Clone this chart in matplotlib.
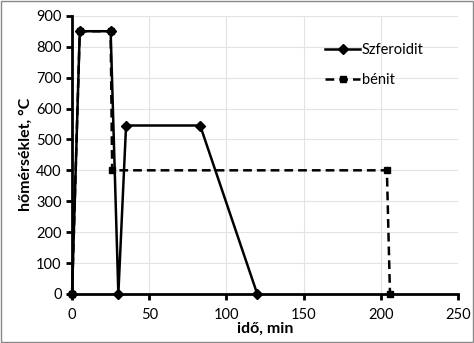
import matplotlib.pyplot as plt

plt.rcParams['font.family'] = ['Lato', 'DejaVu Sans']

# Szferoidit
szf_t = [0, 5, 25, 30, 35, 83, 120]
szf_T = [0, 850, 850, 0, 545, 545, 0]
# bénit
ben_t = [0, 5, 25, 26, 204, 206]
ben_T = [0, 850, 850, 400, 400, 0]

fig = plt.figure(figsize=(4.74, 3.43), dpi=100)
ax = fig.add_axes([0.152, 0.143, 0.814, 0.811])

ax.plot(ben_t, ben_T, color='black', lw=1.8, ls=(0, (3.5, 2)), marker='s', ms=4.5,
        label='bénit', clip_on=False, zorder=3)
ax.plot(szf_t, szf_T, color='black', lw=1.8, marker='D', ms=5,
        label='Szferoidit', clip_on=False, zorder=4)

ax.set_xlim(0, 250)
ax.set_ylim(0, 900)
ax.set_xticks(range(0, 251, 50))
ax.set_yticks(range(0, 901, 100))
ax.grid(True, color='#e3e3e3', lw=0.8)
ax.set_axisbelow(True)

for s in ['top', 'right']:
    ax.spines[s].set_visible(False)
for s in ['left', 'bottom']:
    ax.spines[s].set_linewidth(2)
ax.tick_params(direction='out', length=4, width=2, labelsize=10.5, colors='black')
ax.tick_params(axis='x', pad=6)

ax.set_xlabel('idő, min', fontsize=11.5, fontweight='bold', labelpad=0)
ax.set_ylabel('hőmérséklet, °C', fontsize=11.5, fontweight='bold', labelpad=2)

h, l = ax.get_legend_handles_labels()
ax.legend(h[::-1], l[::-1], loc='upper right', bbox_to_anchor=(0.945, 0.95),
          frameon=False, fontsize=10.5, handlelength=2.4, handletextpad=0.1,
          labelspacing=1.1)

fig.patches.append(plt.Rectangle((0.002, 0.002), 0.996, 0.994,
                                 transform=fig.transFigure, fill=False,
                                 edgecolor='#888888', lw=1))

fig.savefig('out.png', dpi=100)
